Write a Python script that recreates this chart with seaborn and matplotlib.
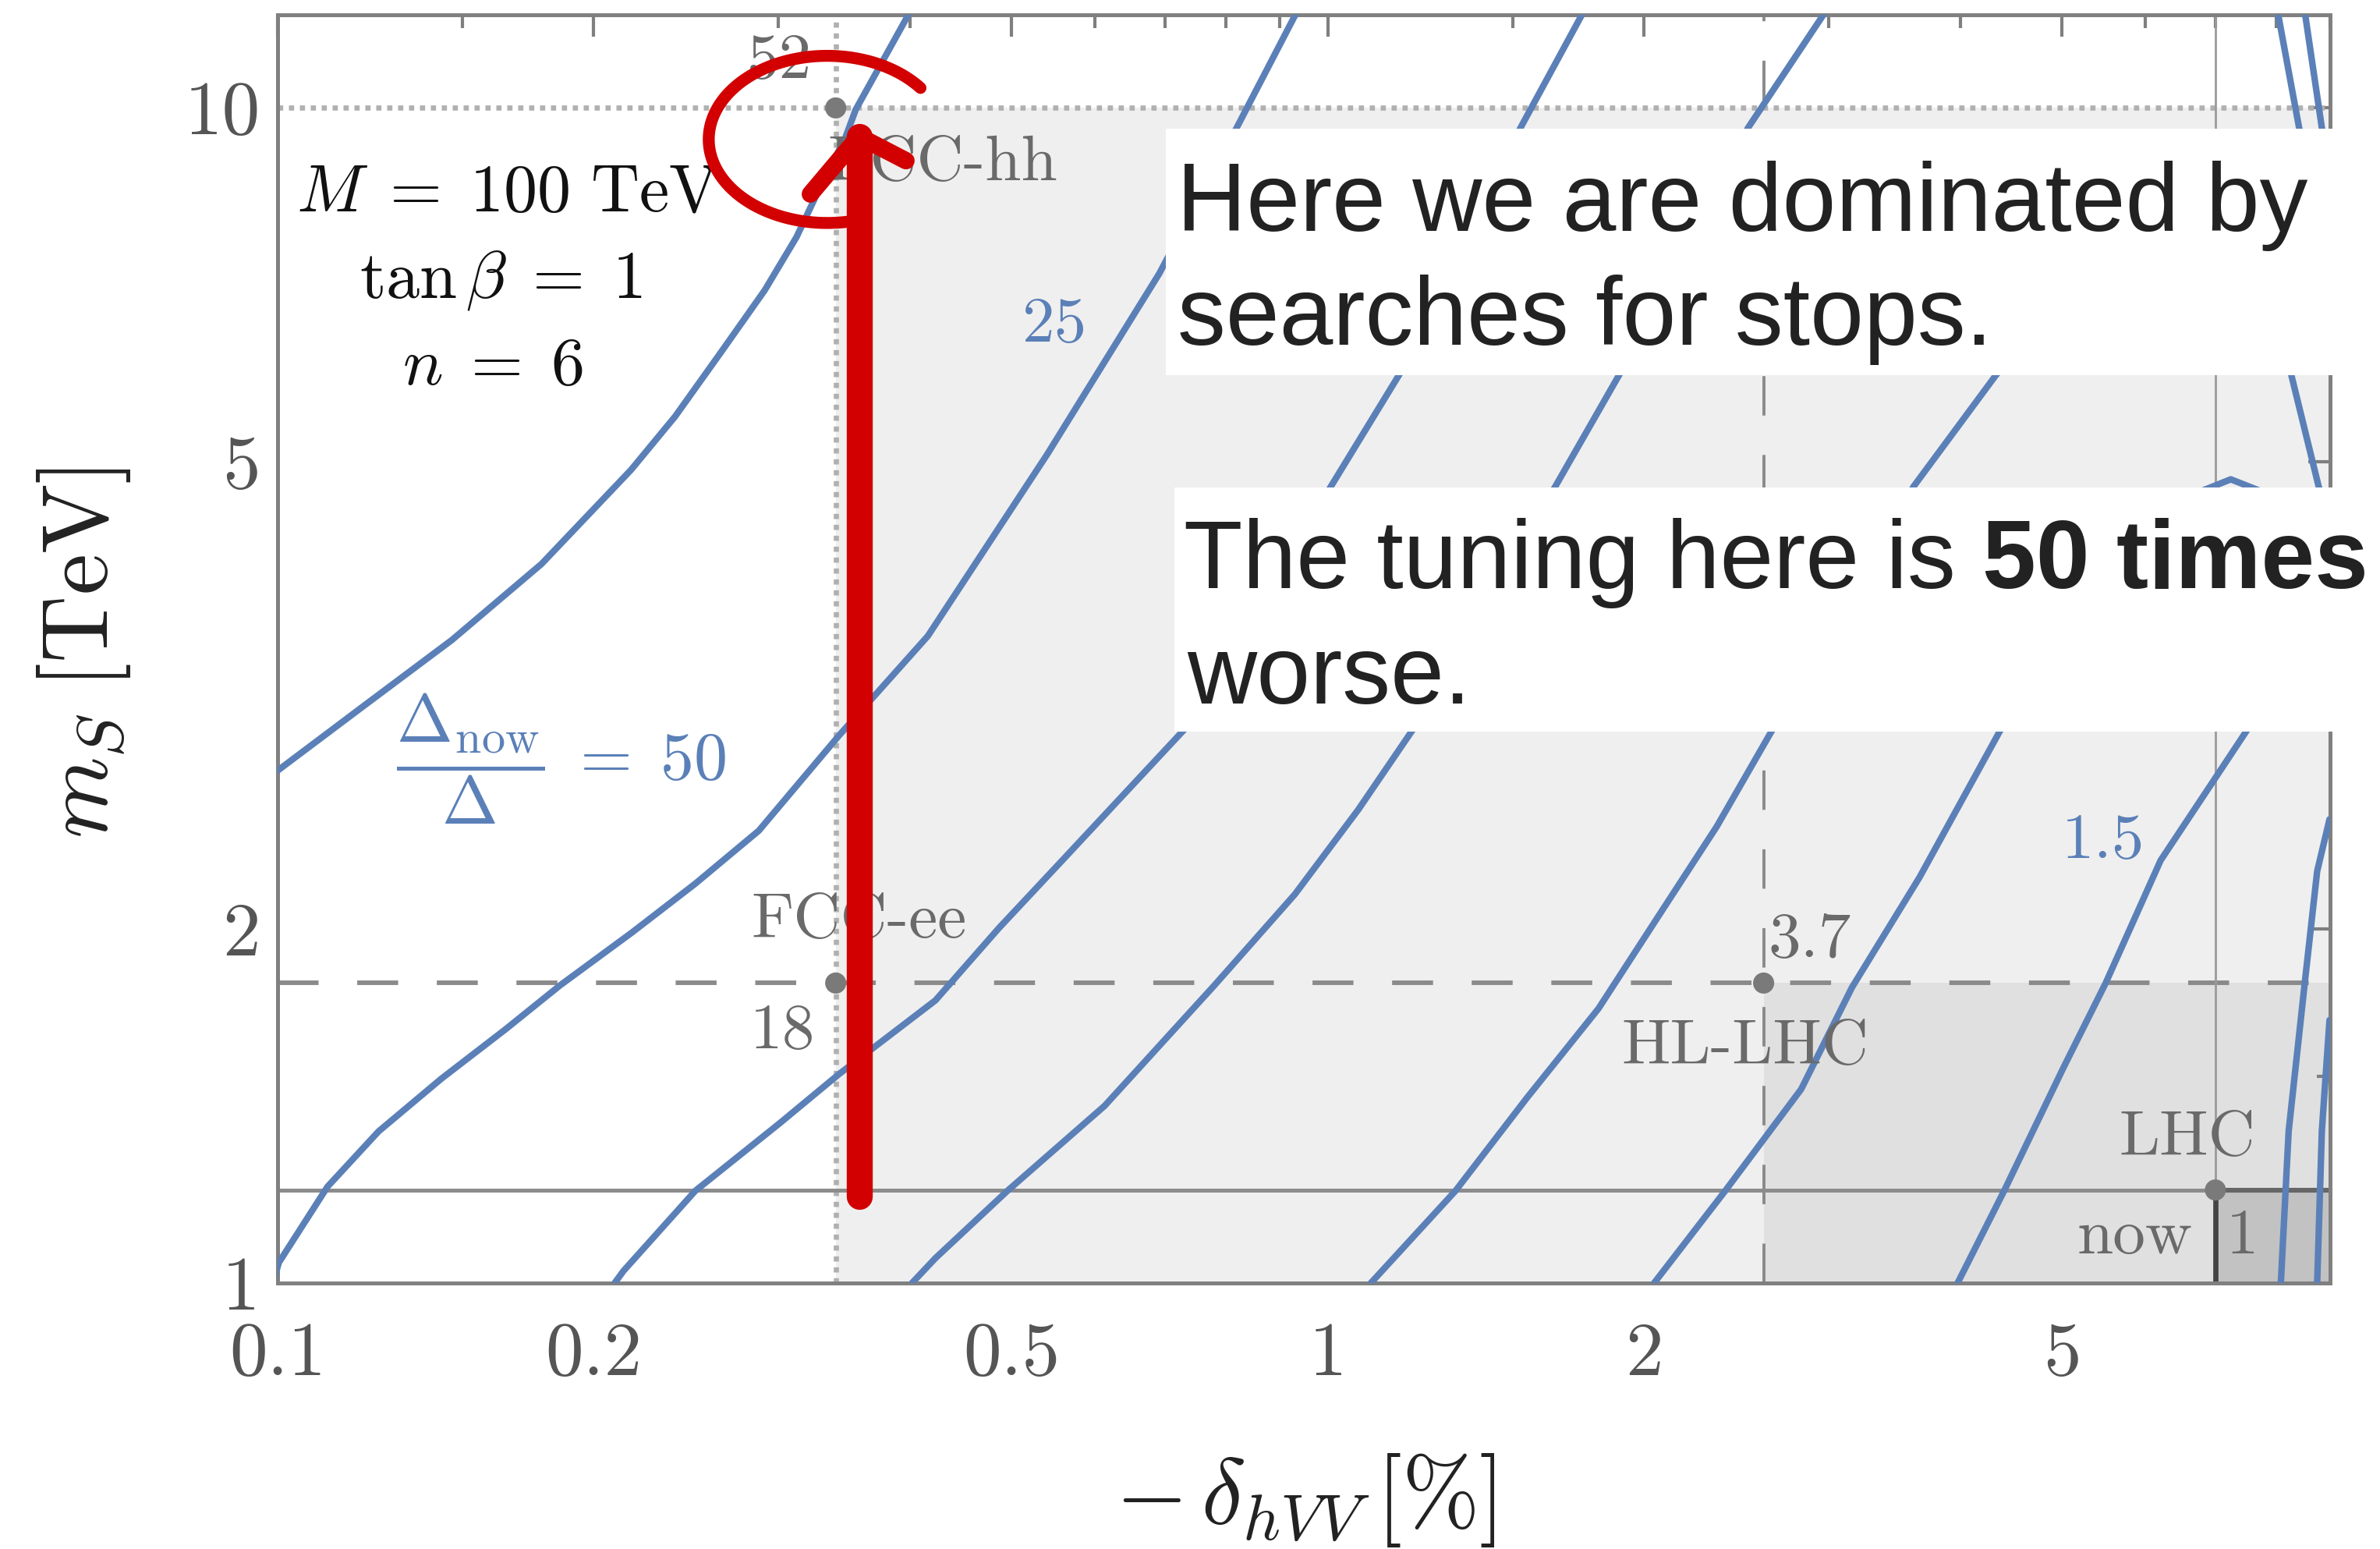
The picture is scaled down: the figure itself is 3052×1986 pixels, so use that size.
import numpy as np
import pandas as pd
import matplotlib
matplotlib.use("Agg")
import matplotlib.pyplot as plt
import seaborn as sns
from matplotlib.patches import Rectangle
from matplotlib.lines import Line2D
from matplotlib.ticker import FixedLocator, FixedFormatter, NullFormatter

# ---------------- data ----------------
# contour curves of Delta_now/Delta (x = -delta_hVV [%], y = m_S [TeV])
a_x = [0.1000, 0.1205, 0.1466, 0.1784, 0.2171, 0.2391, 0.2642, 0.2910, 0.3120, 0.3302,
       0.3471, 0.3553, 0.3993]
a_y = [2.729, 3.093, 3.526, 4.092, 4.921, 5.463, 6.190, 6.996, 7.764, 8.643,
       9.422, 9.970, 12.03]
b_x = [0.0990, 0.1003, 0.1116, 0.1248, 0.1433, 0.1647, 0.1858, 0.2176, 0.2499, 0.2872,
       0.3425, 0.4161, 0.5404, 0.6911, 0.8190, 0.9326]
b_y = [1.000, 1.041, 1.208, 1.346, 1.493, 1.643, 1.792, 1.988, 2.187, 2.426,
       2.924, 3.553, 5.070, 7.228, 9.620, 12.03]
c_x = [0.2094, 0.2135, 0.2499, 0.3008, 0.3425, 0.4231, 0.4863, 0.5587, 0.7308, 1.007,
       1.173, 1.526, 1.748]
c_y = [1.000, 1.024, 1.198, 1.368, 1.506, 1.740, 2.005, 2.289, 2.961, 4.764,
       5.955, 9.620, 12.03]
d_x = [0.4019, 0.4231, 0.4954, 0.6130, 0.7799, 0.9304, 1.069, 1.206, 1.647, 1.900,
       2.513, 2.969]
d_y = [1.000, 1.050, 1.198, 1.415, 1.792, 2.142, 2.528, 2.961, 4.764, 5.955,
       9.620, 12.03]
e_x = [1.099, 1.323, 1.548, 1.810, 2.079, 2.346, 2.646, 3.613, 4.324, 5.19, 6.34, 7.49,
       8.14, 8.27, 8.78, 9.2]
e_y = [1.000, 1.198, 1.438, 1.712, 2.072, 2.446, 2.949, 4.764, 5.920, 7.14, 7.93, 7.47,
       6.53, 5.92, 4.76, 4.24]
f_x = [2.045, 2.390, 2.823, 3.156, 3.660, 4.364, 5.278, 6.03, 6.55, 7.24, 7.87, 8.33, 8.61]
f_y = [1.000, 1.198, 1.462, 1.785, 2.215, 2.949, 3.765, 4.37, 4.66, 4.83, 4.69, 4.24, 3.55]
g_x = [3.978, 4.405, 5.015, 5.502, 6.208, 6.937, 7.470, 8.99]
g_y = [1.000, 1.198, 1.524, 1.799, 2.289, 2.658, 2.937, 3.82]
h_x = [8.08, 8.22, 8.52, 8.75, 8.99]
h_y = [1.000, 1.347, 1.809, 2.241, 2.481]
i_x = [8.75, 8.84, 8.99]
i_y = [1.000, 1.347, 1.674]
p_x = [8.03, 8.41, 8.99]
p_y = [12.03, 9.62, 7.69]
q_x = [8.52, 8.84, 9.05]
q_y = [12.03, 9.62, 8.67]

# benchmark points
pt_x = [0.34, 0.34, 2.6, 7.0]
pt_y = [10.0, 1.8, 1.8, 1.2]
pt_vals = ["52", "18", "3.7", "1"]

# reach lines / regions
fcchh_x, fcchh_y = 0.34, 10.0
fccee_y = 1.8
hllhc_x = 2.6
lhc_x, lhc_y = 7.0, 1.2

x_major = [0.1, 0.2, 0.5, 1, 2, 5]
x_major_lab = ["0.1", "0.2", "0.5", "1", "2", "5"]
x_minor = [0.15, 0.3, 0.4, 0.6, 0.7, 0.8, 0.9, 1.5, 3, 4, 6, 7, 8, 9]
y_major = [1, 2, 5, 10]
y_major_lab = ["1", "2", "5", "10"]
y_minor = [1.5, 3, 4, 6, 7, 8, 9]

BLUE = "#5b80b8"
GRAY_TXT = "#6a6a6a"

# ---------------- figure ----------------
sns.set_theme(style="white")
plt.rcParams["mathtext.fontset"] = "cm"
plt.rcParams["axes.unicode_minus"] = False
plt.rcParams["font.family"] = ["DejaVu Sans"]

fig = plt.figure(figsize=(15.26, 9.93), dpi=200)
ax = fig.add_axes([0.1166, 0.1717, 0.8624, 0.8187])
ax.set_xscale("log")
ax.set_yscale("log")
ax.set_xlim(0.1, 9.0)
ax.set_ylim(1.0, 12.0)

# shaded regions
ax.fill_between([fcchh_x, 9.0], 1.0, fcchh_y, color="#efefef", lw=0, zorder=0)
ax.fill_between([hllhc_x, 9.0], 1.0, fccee_y, color="#e0e0e0", lw=0, zorder=0.1)
ax.fill_between([lhc_x, 9.0], 1.0, lhc_y, color="#c2c2c2", lw=0, zorder=0.2)

# reach lines
ax.axhline(fcchh_y, color="#b0b0b0", lw=2.4, ls=(0, (1, 1.1)), zorder=1)
ax.axvline(fcchh_x, color="#b0b0b0", lw=2.4, ls=(0, (1, 1.1)), zorder=1)
ax.axhline(fccee_y, color="#8a8a8a", lw=2.1, ls=(0, (9, 8.5)), zorder=1)
ax.axvline(hllhc_x, color="#8a8a8a", lw=1.4, ls=(0, (13, 13)), zorder=1)
ax.axhline(lhc_y, color="#8c8c8c", lw=1.8, zorder=1)
ax.axvline(lhc_x, color="#9a9a9a", lw=1.0, zorder=1)
ax.plot([lhc_x, lhc_x], [1.0, lhc_y], color="#444444", lw=2.4, zorder=1.5)
ax.plot([lhc_x, 9.0], [lhc_y, lhc_y], color="#666666", lw=2.2, zorder=1.5)

# contour curves via seaborn
curves = [("A", a_x, a_y), ("B", b_x, b_y), ("C", c_x, c_y), ("D", d_x, d_y),
          ("E", e_x, e_y), ("F", f_x, f_y), ("G", g_x, g_y), ("H", h_x, h_y),
          ("I", i_x, i_y), ("P", p_x, p_y), ("Q", q_x, q_y)]
df = pd.concat([pd.DataFrame({"delta": xs, "mS": ys, "curve": n}) for n, xs, ys in curves],
               ignore_index=True)
sns.lineplot(data=df, x="delta", y="mS", units="curve", estimator=None, sort=False,
             color=BLUE, lw=3.0, ax=ax, legend=False, zorder=3)
for ln in ax.lines[-len(curves):]:
    ln.set_solid_joinstyle("round")

# points
sns.scatterplot(x=pt_x, y=pt_y, color="#7a7a7a", s=95, edgecolor="none", ax=ax, zorder=4,
                legend=False)

ax.set_xlabel("")
ax.set_ylabel("")

# ticks
ax.xaxis.set_major_locator(FixedLocator(x_major))
ax.xaxis.set_major_formatter(FixedFormatter(x_major_lab))
ax.xaxis.set_minor_locator(FixedLocator(x_minor))
ax.xaxis.set_minor_formatter(NullFormatter())
ax.yaxis.set_major_locator(FixedLocator(y_major))
ax.yaxis.set_major_formatter(FixedFormatter(y_major_lab))
ax.yaxis.set_minor_locator(FixedLocator(y_minor))
ax.yaxis.set_minor_formatter(NullFormatter())
ax.tick_params(which="both", direction="in", top=True, right=True, color="#7f7f7f", width=1.5)
ax.tick_params(which="major", length=10)
ax.tick_params(which="minor", length=6)
ax.tick_params(axis="x", which="major", labelsize=35, labelcolor="#555555", pad=18)
ax.tick_params(axis="y", which="major", labelsize=35, labelcolor="#555555", pad=8)
for lab in ax.get_xticklabels() + ax.get_yticklabels():
    lab.set_fontfamily("cmr10")
for sp in ax.spines.values():
    sp.set_color("#808080")
    sp.set_linewidth(1.8)

# axis labels
fig.text(0.5485, 0.0314, r"$-\,\delta_{hVV}\,[\%]$", ha="center", va="center",
         fontsize=43, color="#222222")
fig.text(0.0351, 0.5784, r"$m_S\;[\mathrm{TeV}]$", ha="center", va="center",
         rotation=90, fontsize=43, color="#222222")

# labels in plot
serif = "cmr10"
ax.text(0.3227, 10.94, pt_vals[0], ha="right", va="center", fontsize=30, color=GRAY_TXT, family=serif)
ax.text(0.3338, 8.96, "FCC-hh", ha="left", va="center", fontsize=30, color=GRAY_TXT, family=serif)
ax.text(0.2824, 2.032, "FCC-ee", ha="left", va="center", fontsize=30, color=GRAY_TXT, family=serif)
ax.text(0.3248, 1.635, pt_vals[1], ha="right", va="center", fontsize=30, color=GRAY_TXT, family=serif)
ax.text(2.625, 1.955, pt_vals[2], ha="left", va="center", fontsize=30, color=GRAY_TXT, family=serif)
ax.text(2.497, 1.586, "HL-LHC", ha="center", va="center", fontsize=30, color=GRAY_TXT, family=serif)
ax.text(6.577, 1.327, "LHC", ha="center", va="center", fontsize=30, color=GRAY_TXT, family=serif)
ax.text(6.66, 1.093, "now", ha="right", va="center", fontsize=30, color=GRAY_TXT, family=serif)
ax.text(7.43, 1.093, pt_vals[3], ha="center", va="center", fontsize=30, color=GRAY_TXT, family=serif)
ax.text(0.5495, 6.53, "25", ha="center", va="center", fontsize=30, color=BLUE, family=serif)
ax.text(5.476, 2.372, "1.5", ha="center", va="center", fontsize=30, color=BLUE, family=serif)
ax.text(0.1863, 2.795, r"$\dfrac{\Delta_{\mathrm{now}}}{\Delta}\;=\;50$", ha="center", va="center",
        fontsize=31, color=BLUE)
ax.text(0.1658, 8.47, r"$M\;=\;100\ \mathrm{TeV}$", ha="center", va="center", fontsize=31, color="#111111")
ax.text(0.1631, 7.14, r"$\tan\beta\;=\;1$", ha="center", va="center", fontsize=31, color="#111111")
ax.text(0.1604, 6.03, r"$n\;=\;6$", ha="center", va="center", fontsize=31, color="#111111")

# ---------------- hand-drawn red overlay (axes fraction) ----------------
RED = "#d20000"
ax.add_line(Line2D([0.2833, 0.2833], [0.0683, 0.9042], transform=ax.transAxes, color=RED,
                   lw=12, solid_capstyle="round", zorder=12, clip_on=False))
ax.add_line(Line2D([0.2596, 0.2833, 0.3062], [0.8587, 0.9042, 0.8850], transform=ax.transAxes,
                   color=RED, lw=8, solid_capstyle="round", solid_joinstyle="round",
                   zorder=12, clip_on=False))
th = np.deg2rad(np.linspace(-73, -322, 120))
ell_x = 0.2678 + 0.0577 * np.cos(th)
ell_y = 0.9018 + 0.0659 * np.sin(th)
ax.add_line(Line2D(ell_x, ell_y, transform=ax.transAxes, color=RED, lw=5.5,
                   solid_capstyle="round", zorder=12, clip_on=False))

# ---------------- white text boxes ----------------
fig.add_artist(Rectangle((0.4898, 0.7578), 0.4955, 0.1589, transform=fig.transFigure,
                         facecolor="white", edgecolor="none", zorder=10))
fig.add_artist(Rectangle((0.4936, 0.5275), 0.5064, 0.1578, transform=fig.transFigure,
                         facecolor="white", edgecolor="none", zorder=10))
SANS = ["Liberation Sans", "DejaVu Sans"]
tkw = dict(fontsize=44.5, family=SANS, color="#222222", va="baseline", zorder=11)
fig.text(0.4943, 0.8510, "Here we are dominated by", **tkw)
fig.text(0.4949, 0.7775, "searches for stops.", **tkw)
t1 = fig.text(0.4974, 0.6202, "The tuning here is", **tkw)
fig.text(0.4987, 0.5456, "worse.", **tkw)
r = fig.canvas.get_renderer()
bb = t1.get_window_extent(renderer=r)
x_end = bb.x1 / fig.bbox.width + 0.0113
fig.text(x_end, 0.6202, "50 times", fontweight="bold", **tkw)

fig.savefig("out.png", dpi=200)
